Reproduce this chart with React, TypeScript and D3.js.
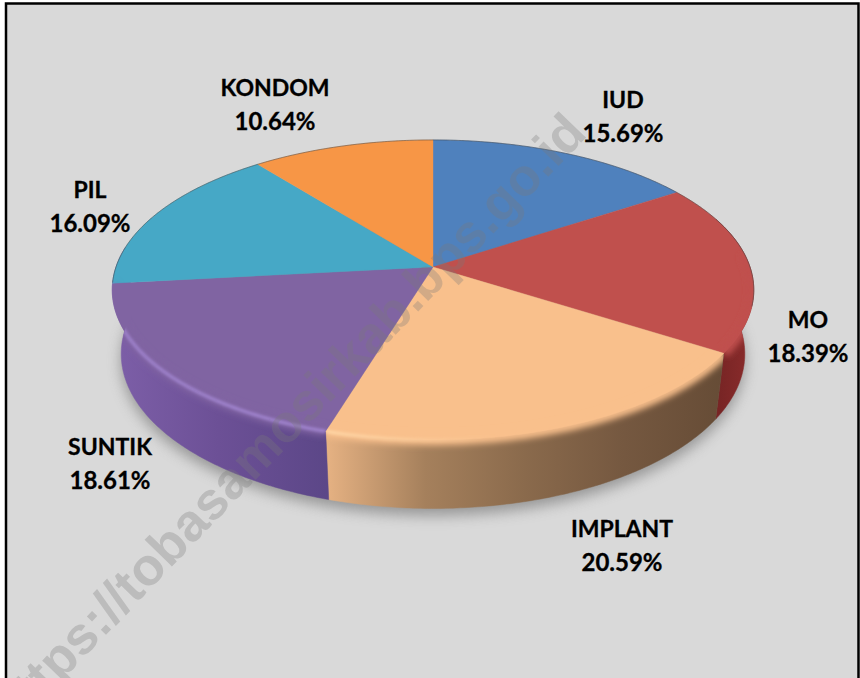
import React from 'react';
import * as d3 from 'd3';

const categories = ['IUD', 'MO', 'IMPLANT', 'SUNTIK', 'PIL', 'KONDOM'];
const shares = [15.69, 18.39, 20.59, 18.61, 16.09, 10.64];
const topColors = ['#4f81bd', '#c0504d', '#f9c08c', '#8064a2', '#46a8c6', '#f79646'];
const rimColors = ['#5f91cd', '#b04a48', '#ffd8a8', '#a488d4', '#56b8d6', '#ffa656'];
const rimFade = [[0, 0], [0, 0], [1, 0], [0.9, 1], [0, 0], [0, 0]];
const wallStops = [
  ['#2f5a90', '#2f5a90'],
  ['#5f1c1c', '#8c2c2c'],
  ['#e6b283', '#a5805c', '#8a6a4c', '#755840', '#664c36'],
  ['#7d5fa8', '#6c5096', '#5c4788'],
  ['#2f7f96', '#2f7f96'],
  ['#b06a2a', '#b06a2a'],
];
const labelPos: [number, number][] = [
  [623, 100], [808, 320], [622, 529], [110, 447], [90, 190], [275, 88],
];

const W = 860;
const H = 678;
const CX = 433;
const CY = 267;
const A = 317;
const B = 146.5;
const K = 0.153;
const DEG = Math.PI / 180;
const WALL_A = 70 * DEG;
const WALL_B = 278 * DEG;

// perspective projection of the disc's rim
const projectTop = (t: number): [number, number] => {
  const u = Math.sin(t);
  const v = -Math.cos(t);
  const d = 1 - K * v;
  return [CX + (A * u) / d, CY + (B * v) / d];
};
const projectBottom = (t: number): [number, number] => {
  const [x, y] = projectTop(t);
  return [CX + (x - CX) * 0.972, 354 + (y - 290) * 1.03];
};
const samples = (a: number, b: number) => {
  const n = Math.max(2, Math.ceil(Math.abs(b - a) / 0.01));
  return d3.range(n + 1).map((i) => a + ((b - a) * i) / n);
};
const line = d3.line<[number, number]>().x((d) => d[0]).y((d) => d[1]).curve(d3.curveLinear);

const arcs = d3.pie<number>().sort(null).value((d) => d)(shares);
const full = samples(0, Math.PI * 2);

// the part of a slice's wall on the front of the disc, or null
const wallPath = (a: { startAngle: number; endAngle: number }) => {
  if (a.startAngle >= 260 * DEG) return null;
  const lo = Math.max(a.startAngle, WALL_A);
  // the slice reaching the left tip carries the wall up to the tip
  const hi = a.endAngle > 260 * DEG ? WALL_B : Math.min(a.endAngle, WALL_B);
  if (hi <= lo) return null;
  const s = samples(lo, hi);
  return `${line([...s.map(projectTop), ...s.slice().reverse().map(projectBottom)])}Z`;
};

export default function App() {
  const FRONT_A = 85 * DEG;
  const FRONT_B = 272 * DEG;
  return (
    <svg width={W} height={H} viewBox={`0 0 ${W} ${H}`} style={{ position: 'absolute', left: 0, top: 0, display: 'block' }}>
      <defs>
        <filter id="shadow" x="-20%" y="-20%" width="140%" height="150%"><feGaussianBlur stdDeviation="7" /></filter>
        <filter id="soft" x="-20%" y="-20%" width="140%" height="140%"><feGaussianBlur stdDeviation="3.4" /></filter>
        <filter id="softer" x="-20%" y="-20%" width="140%" height="140%"><feGaussianBlur stdDeviation="1.4" /></filter>
        {arcs.map((a, i) => {
          const st = wallStops[i];
          const pts = samples(a.startAngle, a.endAngle).map((t) => projectTop(t)[0]);
          const x0 = Math.min(...pts);
          const x1 = Math.max(...pts);
          return (
            <React.Fragment key={i}>
              <linearGradient id={`wall${i}`} gradientUnits="userSpaceOnUse" x1={x0} x2={x1} y1={0} y2={0}>
                {st.map((c, j) => <stop key={j} offset={j / (st.length - 1)} stopColor={c} />)}
              </linearGradient>
              <linearGradient id={`rim${i}`} gradientUnits="userSpaceOnUse" x1={x0} x2={i === 2 ? x0 + 170 : x1} y1={0} y2={0}>
                <stop offset={0} stopColor={rimColors[i]} stopOpacity={rimFade[i][0]} />
                <stop offset={1} stopColor={rimColors[i]} stopOpacity={rimFade[i][1]} />
              </linearGradient>
            </React.Fragment>
          );
        })}
        <clipPath id="frame"><rect x={6} y={4} width={852} height={H} /></clipPath>
        {arcs.map((a, i) => {
          const s = samples(a.startAngle, a.endAngle);
          const topF = [[CX, CY] as [number, number], ...s.map(projectTop)];
          const w = wallPath(a);
          return (
            <clipPath id={`slice${i}`} key={i}>
              {w ? <path d={w} /> : null}
              <path d={`${line(topF)}Z`} />
            </clipPath>
          );
        })}
      </defs>
      <rect x={0} y={0} width={W} height={H} fill="#ffffff" />
      <rect x={6} y={3.5} width={852.5} height={H + 10} fill="#d9d9d9" stroke="#000" strokeWidth={2.5} />
      <g clipPath="url(#frame)">
        <path d={`${line(full.map(projectBottom))}Z`} fill="#6a6a6a" opacity={0.6} filter="url(#shadow)" transform="translate(0,7)" />
        {arcs.map((a, i) => {
          const w = wallPath(a);
          return w ? <path key={i} d={w} fill={`url(#wall${i})`} stroke={`url(#wall${i})`} strokeWidth={0.5} /> : null;
        })}
        {arcs.map((a, i) => {
          const s = samples(a.startAngle, a.endAngle);
          const topF = [[CX, CY] as [number, number], ...s.map(projectTop)];
          return <path key={i} d={`${line(topF)}Z`} fill={topColors[i]} stroke={topColors[i]} strokeWidth={0.4} />;
        })}
        {arcs.map((a, i) => {
          const lo = Math.max(a.startAngle, FRONT_A);
          const hi = Math.min(a.endAngle, FRONT_B);
          if (hi <= lo) return null;
          const r = samples(lo, hi).map(projectTop);
          return (
            <g key={i} clipPath={`url(#slice${i})`}>
              <path d={line(r) ?? ''} fill="none" stroke={topColors[i]} strokeWidth={10} filter="url(#soft)" />
              {rimFade[i][0] + rimFade[i][1] > 0 ? (
                <path d={line(r) ?? ''} fill="none" stroke={`url(#rim${i})`} strokeWidth={3} filter="url(#softer)" />
              ) : null}
            </g>
          );
        })}
        <path d={line(samples(-96 * DEG, 105 * DEG).map(projectTop)) ?? ''} fill="none" stroke="#444" strokeWidth={1} opacity={0.5} />
        {arcs.map((a, i) => (
          <text key={i} x={labelPos[i][0]} y={labelPos[i][1]} textAnchor="middle" fontFamily="Lato, Carlito, 'Open Sans', sans-serif" fontWeight={700} fill="#000" stroke="#000" strokeWidth={0.3}>
            <tspan x={labelPos[i][0]} dy={8} fontSize={23}>{categories[i]}</tspan>
            <tspan x={labelPos[i][0]} dy={33.5} fontSize={24}>{a.value.toFixed(2)}%</tspan>
          </text>
        ))}
        <text
          transform={`translate(13,731) rotate(-46)`}
          fontFamily="'Liberation Sans', Arial, sans-serif"
          fontWeight={700}
          fontSize={52.7}
          fill="#7a7a7a"
          opacity={0.3}
        >https://tobasamosirkab.bps.go.id</text>
      </g>
    </svg>
  );
}
